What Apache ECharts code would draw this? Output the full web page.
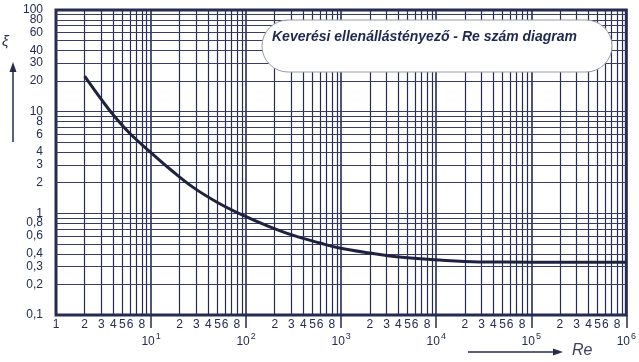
<!DOCTYPE html>
<html>
<head>
<meta charset="utf-8">
<script src="https://cdn.jsdelivr.net/npm/echarts@6/dist/echarts.min.js"></script>
<style>html,body{margin:0;padding:0;background:#fff;}#c{width:639px;height:362px;}</style>
</head>
<body>
<div id="c"></div>
<script>
// Curve data (Re, xi)
const reValues = [2, 3, 4, 6, 10, 16, 27.5, 50, 92, 170, 309, 600, 960, 2000, 4100, 10800, 28400, 100000, 1000000];
const xiValues = [22.4, 13.2, 9.3, 6.1, 3.95, 2.7, 1.81, 1.28, 0.96, 0.75, 0.61, 0.51, 0.456, 0.407, 0.372, 0.347, 0.333, 0.331, 0.331];

// Axis tick values / labels
const xDecades = [1, 10, 100, 1000, 10000, 100000, 1000000];
const xDecadeExponents = ['0', '1', '2', '3', '4', '5', '6'];
const gridMultipliers = [2, 3, 4, 5, 6, 7, 8, 9];
const xMinorLabeledMultipliers = [2, 3, 4, 5, 6, 8];
const yDecades = [0.1, 1, 10, 100];
const yLabelValues = [0.1, 0.2, 0.3, 0.4, 0.6, 0.8, 1, 2, 3, 4, 6, 8, 10, 20, 30, 40, 60, 80, 100];
const yLabelTexts = ['0,1', '0,2', '0,3', '0,4', '0,6', '0,8', '1', '2', '3', '4', '6', '8', '10', '20', '30', '40', '60', '80', '100'];

const title = 'Keverési ellenállástényező - Re szám diagram';
const navy = '#262b52';
const font = 'Liberation Sans, Arial, sans-serif';
const clear = 'rgba(0,0,0,0)';

// vertical grid lines
const vLines = [];
xDecades.forEach((d, i) => {
  if (i > 0 && i < xDecades.length - 1) vLines.push({ xAxis: d, label: { show: false }, lineStyle: { width: 1.6 } });
  if (i < xDecades.length - 1) {
    gridMultipliers.forEach(m => {
      const show = xMinorLabeledMultipliers.indexOf(m) >= 0;
      vLines.push({ xAxis: d * m, label: { show: show, formatter: String(m) } });
    });
  }
});
// "1" label at left
vLines.push({ xAxis: 1, lineStyle: { color: clear }, label: { show: true, formatter: '1', color: navy } });

// horizontal grid lines
const hLines = [];
yDecades.forEach((d, i) => {
  if (i < yDecades.length - 1) {
    gridMultipliers.forEach(m => {
      hLines.push({ yAxis: +(d * m).toPrecision(6), label: { show: false } });
    });
    if (i > 0) hLines.push({ yAxis: d, label: { show: false } });
  }
});
yLabelValues.forEach((v, i) => {
  hLines.push({ yAxis: v, lineStyle: { color: clear }, label: { show: true, formatter: yLabelTexts[i], color: navy } });
});

const chart = echarts.init(document.getElementById('c'), null, { renderer: 'canvas' });
chart.setOption({
  animation: false,
  backgroundColor: '#fff',
  grid: { left: 56, right: 11, top: 10, bottom: 47, show: true, borderColor: navy, borderWidth: 3, backgroundColor: 'transparent' },
  xAxis: {
    type: 'log', logBase: 10, min: 1, max: 1000000,
    axisLine: { show: false },
    splitLine: { show: false },
    minorTick: { show: false },
    axisTick: { show: true, customValues: xDecades.slice(1), length: 13, lineStyle: { color: navy, width: 1.5 } },
    axisLabel: {
      customValues: xDecades.slice(1),
      margin: 17,
      formatter: function (v) {
        const i = xDecades.indexOf(v);
        return '{b|10}{s|' + xDecadeExponents[i] + '}';
      },
      rich: {
        b: { fontSize: 12, color: navy, fontFamily: font, verticalAlign: 'bottom', lineHeight: 16 },
        s: { fontSize: 9, color: navy, fontFamily: font, verticalAlign: 'top', lineHeight: 16, padding: [0, 0, 6, 1] }
      }
    }
  },
  yAxis: {
    type: 'log', logBase: 10, min: 0.1, max: 100,
    axisLine: { show: false },
    axisTick: { show: false },
    axisLabel: { show: false },
    splitLine: { show: false }
  },
  series: [
    {
      type: 'line', data: [], z: 1, silent: true,
      markLine: {
        silent: true, symbol: ['none', 'none'], animation: false,
        lineStyle: { color: navy, width: 1.2, type: 'solid' },
        label: { position: 'start', distance: 4, color: navy, fontSize: 12, fontFamily: font },
        emphasis: { disabled: true },
        data: vLines
      }
    },
    {
      type: 'line', data: [], z: 1, silent: true,
      markLine: {
        silent: true, symbol: ['none', 'none'], animation: false,
        lineStyle: { color: '#3a3c68', width: 1, type: 'solid' },
        label: { position: 'start', distance: 13, color: navy, fontSize: 12, fontFamily: font },
        emphasis: { disabled: true },
        data: hLines
      }
    },
    {
      type: 'line', z: 5, silent: true,
      data: reValues.map((x, i) => [x, xiValues[i]]),
      showSymbol: false, symbol: 'none',
      smooth: 0.4,
      lineStyle: { color: '#1e2240', width: 3 }
    }
  ],
  graphic: [
    { type: 'rect', z: 100, shape: { x: 262, y: 20, width: 350, height: 52, r: 26 }, style: { fill: '#fff', stroke: '#9a9aa8', lineWidth: 1 } },
    { type: 'text', z: 101, left: 272, top: 30, style: { text: title, fill: '#1f2850', font: 'italic bold 14px ' + font } },
    { type: 'text', z: 101, left: 2, top: 34, style: { text: 'ξ', fill: navy, font: 'italic 15px ' + font } },
    { type: 'line', z: 101, shape: { x1: 13, y1: 142, x2: 13, y2: 70 }, style: { stroke: navy, lineWidth: 1.5 } },
    { type: 'polygon', z: 101, shape: { points: [[13, 62], [9.5, 72], [16.5, 72]] }, style: { fill: navy } },
    { type: 'line', z: 101, shape: { x1: 468, y1: 352, x2: 555, y2: 352 }, style: { stroke: navy, lineWidth: 1.5 } },
    { type: 'polygon', z: 101, shape: { points: [[563, 352], [553, 348.5], [553, 355.5]] }, style: { fill: navy } },
    { type: 'text', z: 101, left: 572, top: 343, style: { text: 'Re', fill: '#3a3f60', font: 'italic 16px ' + font } }
  ]
});
</script>
</body>
</html>
